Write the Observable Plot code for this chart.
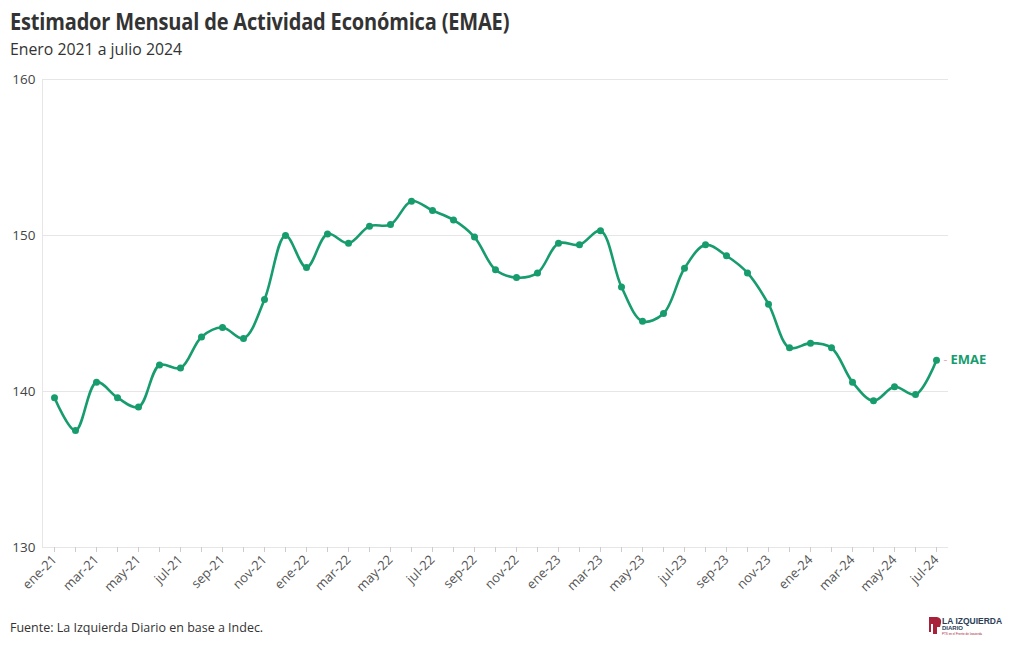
<!DOCTYPE html>
<html>
<head>
<meta charset="utf-8">
<script src="https://cdn.jsdelivr.net/npm/d3@7"></script>
<script src="https://cdn.jsdelivr.net/npm/@observablehq/plot@0.6"></script>
<style>
  html, body { margin: 0; padding: 0; background: #fff; }
  body { width: 1020px; height: 650px; position: relative; font-family: "Open Sans", sans-serif; }
  #title { position: absolute; left: 10px; top: 9px; line-height: 24px; font-size: 23px; font-weight: 700; color: #333; letter-spacing: -0.2px; transform: scaleX(0.87); transform-origin: left; white-space: nowrap; }
  #subtitle { position: absolute; left: 10px; top: 39px; line-height: 19px; font-size: 17px; color: #333; transform: scaleX(0.93); transform-origin: left; white-space: nowrap; }
  #chart { position: absolute; left: 0; top: 65px; }
  #caption { position: absolute; left: 10px; top: 618px; line-height: 18px; font-size: 13px; color: #333; transform: scaleX(0.96); transform-origin: left; white-space: nowrap; }
  #logo { position: absolute; left: 928px; top: 615px; width: 84px; height: 20px; }
</style>
</head>
<body>
<div id="title">Estimador Mensual de Actividad Económica (EMAE)</div>
<div id="subtitle">Enero 2021 a julio 2024</div>
<div id="chart"></div>
<div id="caption">Fuente: La Izquierda Diario en base a Indec.</div>
<svg id="logo" viewBox="0 0 84 20">
  <path d="M1 2 L9 2 Q14 3 13 8 L12 12 L9 12 L9 19 L5 19 L5 9 L3 9 L3 17 L1 17 Z" fill="#a8203a"/>
  <text x="14" y="9" font-family="Liberation Sans, Arial" font-weight="700" font-size="8.5" fill="#2c3e57">LA IZQUIERDA</text>
  <text x="14" y="15" font-family="Liberation Sans, Arial" font-weight="700" font-size="6" fill="#2c3e57">DIARIO</text>
  <text x="14" y="19.5" font-family="Liberation Sans, Arial" font-size="3" fill="#a8203a">PTS en el Frente de Izquierda</text>
</svg>
<script>
const months = [
  "ene-21","feb-21","mar-21","abr-21","may-21","jun-21","jul-21","ago-21","sep-21","oct-21","nov-21","dic-21",
  "ene-22","feb-22","mar-22","abr-22","may-22","jun-22","jul-22","ago-22","sep-22","oct-22","nov-22","dic-22",
  "ene-23","feb-23","mar-23","abr-23","may-23","jun-23","jul-23","ago-23","sep-23","oct-23","nov-23","dic-23",
  "ene-24","feb-24","mar-24","abr-24","may-24","jun-24","jul-24"
];
const emae = [
  139.6, 137.5, 140.6, 139.6, 139.0, 141.7, 141.5, 143.5, 144.1, 143.4, 145.9, 150.0,
  147.95, 150.1, 149.5, 150.6, 150.7, 152.2, 151.6, 151.0, 149.9, 147.8, 147.3, 147.6,
  149.5, 149.4, 150.3, 146.7, 144.5, 145.0, 147.9, 149.4, 148.7, 147.6, 145.6, 142.8,
  143.1, 142.8, 140.6, 139.4, 140.3, 139.8, 142.0
];
const yTicks = [130, 140, 150, 160];
const seriesName = "EMAE";

const data = months.map((m, i) => ({month: m, value: emae[i]}));
const last = data[data.length - 1];
const color = "#179c6d";

const chart = Plot.plot({
  width: 1020,
  height: 540,
  marginTop: 14,
  marginBottom: 58,
  marginLeft: 42,
  marginRight: 72,
  style: {fontFamily: "'Open Sans', sans-serif", fontSize: "13px", color: "#444"},
  x: {type: "point", domain: months, padding: 0.5, label: null},
  y: {domain: [130, 160], label: null},
  marks: [
    Plot.gridY(yTicks, {stroke: "#e6e6e6", strokeOpacity: 1}),
    Plot.axisY(yTicks, {tickSize: 0, tickPadding: 7, fontSize: 13.5, fill: "#444", tickFormat: d => d}),
    Plot.axisX({
      ticks: months, tickSize: 5, stroke: "#ccc", tickPadding: 5, tickRotate: -45,
      fontSize: 13, fill: "#555",
      tickFormat: (d) => (months.indexOf(d) % 2 === 0 ? d : "")
    }),
    Plot.line(data, {x: "month", y: "value", stroke: color, strokeWidth: 2.6, curve: "catmull-rom"}),
    Plot.dot(data, {x: "month", y: "value", fill: color, r: 3.5}),
    Plot.text([last], {x: "month", y: "value", text: () => "-", dx: 9, fill: "#f2a7b8", fontSize: 12, textAnchor: "middle"}),
    Plot.text([last], {x: "month", y: "value", text: () => seriesName, dx: 14, textAnchor: "start", fill: color, fontWeight: "bold", fontSize: 13})
  ]
});
const svg = d3.select(chart);
svg.append("line").attr("x1", 42.5).attr("x2", 42.5).attr("y1", 14).attr("y2", 482).attr("stroke", "#e6e6e6");
document.getElementById("chart").appendChild(chart);
</script>
</body>
</html>
